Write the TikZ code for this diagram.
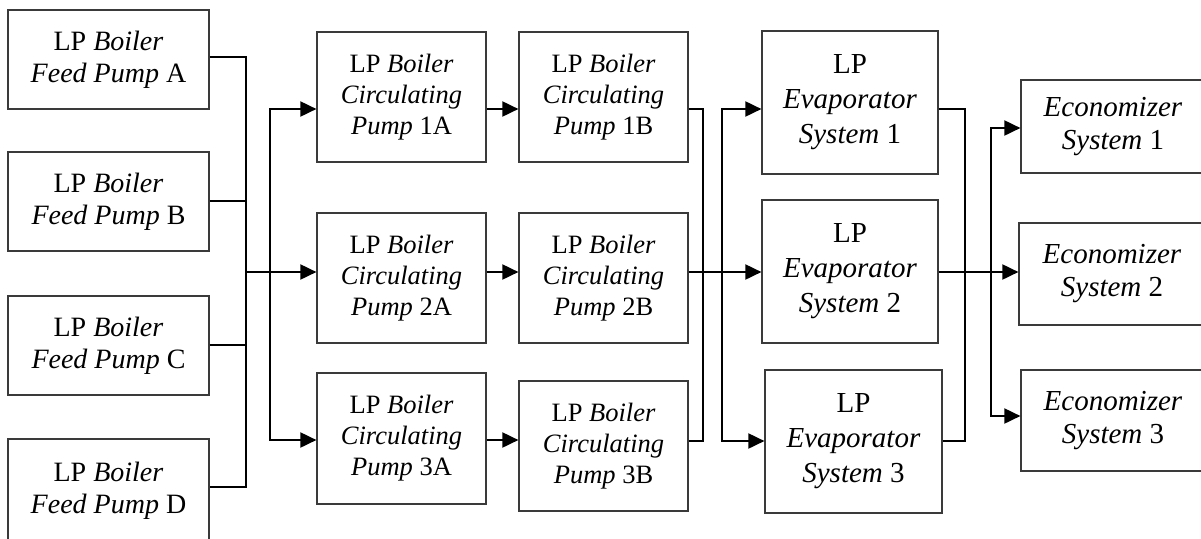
\documentclass[tikz,border=0pt]{standalone}
\usepackage{fontspec}
\setmainfont{Liberation Serif}
\usetikzlibrary{arrows.meta}

\definecolor{boxline}{HTML}{3A3A3A}

\tikzset{
  unit/.style={draw=boxline, line width=1.2pt, fill=white, align=center,
               inner sep=0pt, text=black},
  feedbox/.style={unit, minimum width=201pt, minimum height=99pt,
                  font=\fontsize{28}{32}\selectfont},
  circbox/.style={unit, minimum width=169pt, minimum height=130pt,
                  font=\fontsize{26.5}{31}\selectfont},
  evapbox/.style={unit, minimum height=143pt,
                  font=\fontsize{29}{35}\selectfont},
  econbox/.style={unit, minimum width=184pt,
                  font=\fontsize{29}{33}\selectfont},
  wire/.style={draw=black, line width=1.9pt},
  arr/.style={wire, -{Triangle[length=16pt,width=15pt]}},
}

\begin{document}
\begin{tikzpicture}[x=1pt, y=-1pt]
\useasboundingbox (0,0) rectangle (1201,538);

% feed pumps
\node[feedbox] (fA) at (108.5,59.5)  {LP \textit{Boiler}\\\textit{Feed Pump} A};
\node[feedbox] (fB) at (108.5,201.5) {LP \textit{Boiler}\\\textit{Feed Pump} B};
\node[feedbox] (fC) at (108.5,345.5) {LP \textit{Boiler}\\\textit{Feed Pump} C};
\node[feedbox, minimum height=103pt] (fD) at (108.5,490.5) {LP \textit{Boiler}\\\textit{Feed Pump} D};

% circulating pumps, first stage
\node[circbox] (c1A) at (401.5,97)   {LP \textit{Boiler}\\\textit{Circulating}\\\textit{Pump} 1A};
\node[circbox] (c2A) at (401.5,278)  {LP \textit{Boiler}\\\textit{Circulating}\\\textit{Pump} 2A};
\node[circbox, minimum height=131pt] (c3A) at (401.5,438.5) {LP \textit{Boiler}\\\textit{Circulating}\\\textit{Pump} 3A};

% circulating pumps, second stage
\node[circbox] (c1B) at (603.5,97)  {LP \textit{Boiler}\\\textit{Circulating}\\\textit{Pump} 1B};
\node[circbox] (c2B) at (603.5,278) {LP \textit{Boiler}\\\textit{Circulating}\\\textit{Pump} 2B};
\node[circbox] (c3B) at (603.5,446) {LP \textit{Boiler}\\\textit{Circulating}\\\textit{Pump} 3B};

% evaporators
\node[evapbox, minimum width=176pt] (e1) at (850,102.5)   {LP\\\textit{Evaporator}\\\textit{System} 1};
\node[evapbox, minimum width=176pt] (e2) at (850,271.5)   {LP\\\textit{Evaporator}\\\textit{System} 2};
\node[evapbox, minimum width=177pt] (e3) at (853.5,441.5) {LP\\\textit{Evaporator}\\\textit{System} 3};

% economizers
\node[econbox, minimum height=93pt]  (k1) at (1113,126.5) {\textit{Economizer}\\\textit{System} 1};
\node[econbox, minimum height=102pt, minimum width=186pt] (k2) at (1112,274) {\textit{Economizer}\\\textit{System} 2};
\node[econbox, minimum height=101pt] (k3) at (1113,420.5) {\textit{Economizer}\\\textit{System} 3};

% bus positions and flow levels
\coordinate (busF) at (246,0);
\coordinate (busA) at (270,0);
\coordinate (busB) at (703,0);
\coordinate (busE) at (722,0);
\coordinate (busO) at (965,0);
\coordinate (busK) at (991,0);
\coordinate (yOne)   at (0,109);
\coordinate (mainY)  at (0,272);
\coordinate (yThree) at (0,440);
\coordinate (yThreeB) at (0,441);
\coordinate (yK1) at (0,128);
\coordinate (yK3) at (0,416);
\coordinate (aOut) at ([yshift=2.5pt]fA.east);
\coordinate (bOut) at ([yshift=0.5pt]fB.east);
\coordinate (cOut) at ([yshift=0.5pt]fC.east);
\coordinate (dOut) at ([yshift=3.5pt]fD.east);

% feed pumps into the common header
\draw[wire] (aOut) -- (aOut -| busF) -- (dOut -| busF) -- (dOut);
\draw[wire] (bOut) -- (bOut -| busF);
\draw[wire] (cOut) -- (cOut -| busF);
\draw[arr] (busF |- mainY) -- (c2A.west |- mainY);
\draw[arr] (busA |- mainY) |- (c1A.west |- yOne);
\draw[arr] (busA |- mainY) |- (c3A.west |- yThree);

% first stage into second stage
\draw[arr] (c1A.east |- yOne) -- (c1B.west |- yOne);
\draw[arr] (c2A.east |- mainY) -- (c2B.west |- mainY);
\draw[arr] (c3A.east |- yThree) -- (c3B.west |- yThree);

% second stage into evaporators
\draw[wire] (c1B.east |- yOne) -| (busB |- yThreeB) -- (c3B.east |- yThreeB);
\draw[arr] (c2B.east |- mainY) -- (e2.west |- mainY);
\draw[arr] (busE |- mainY) |- (e1.west |- yOne);
\draw[arr] (busE |- mainY) |- (e3.west |- yThreeB);

% evaporators into economizers
\draw[wire] (e1.east |- yOne) -| (busO |- yThreeB) -- (e3.east |- yThreeB);
\draw[arr] (e2.east |- mainY) -- (k2.west |- mainY);
\draw[arr] (busK |- mainY) |- (k1.west |- yK1);
\draw[arr] (busK |- mainY) |- (k3.west |- yK3);
\end{tikzpicture}
\end{document}
